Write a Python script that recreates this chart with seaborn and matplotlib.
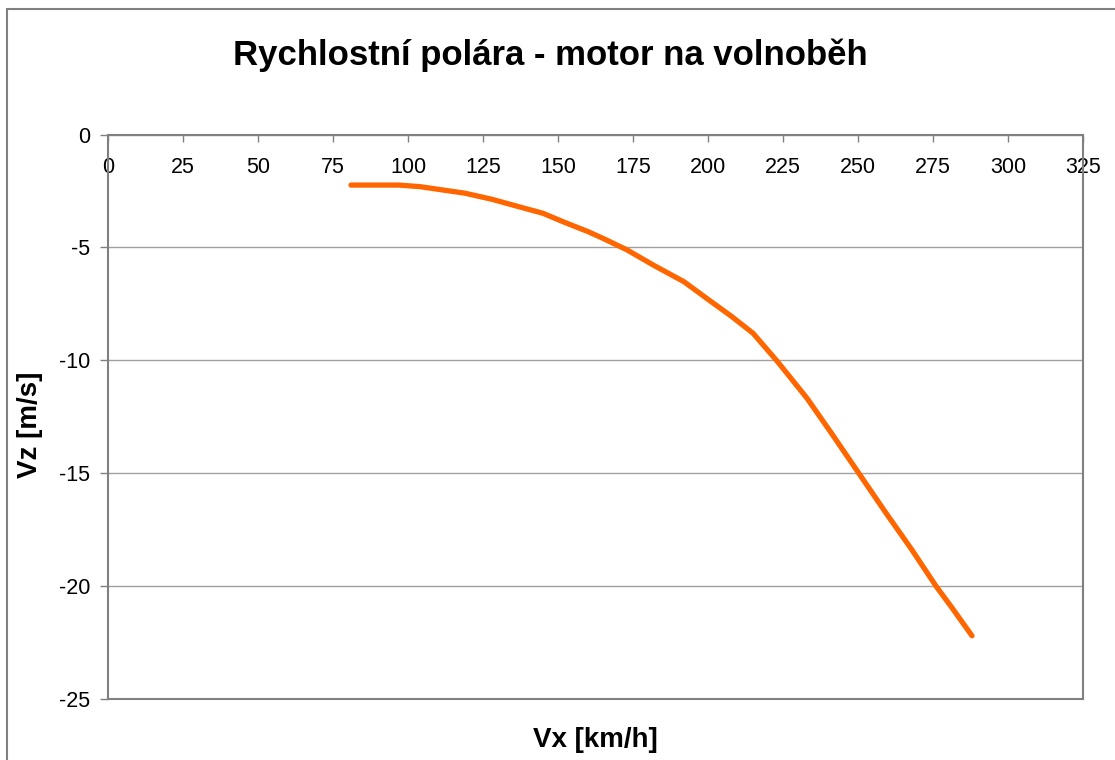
import numpy as np
import pandas as pd
import seaborn as sns
import matplotlib.pyplot as plt
from matplotlib.patches import Rectangle

# speed polar, engine idle
vx = [81, 97, 104, 119, 128, 137, 145, 152, 160, 165, 173, 182, 192,
      200, 208, 215, 223, 233, 241, 250, 259, 268, 276, 281, 288]
vz = [-2.24, -2.24, -2.31, -2.60, -2.87, -3.20, -3.49, -3.88, -4.30, -4.60,
      -5.11, -5.80, -6.52, -7.30, -8.07, -8.80, -10.03, -11.68, -13.20,
      -14.95, -16.70, -18.40, -20.00, -20.90, -22.20]
x_ticks = list(range(0, 326, 25))
y_ticks = [0, -5, -10, -15, -20, -25]

df = pd.DataFrame({"Vx": vx, "Vz": vz})

sns.set_style("white")
plt.rcParams['font.family'] = ['Liberation Sans', 'DejaVu Sans']
plt.rcParams['axes.unicode_minus'] = False
plt.rcParams['text.color'] = 'black'
plt.rcParams['axes.labelcolor'] = 'black'
plt.rcParams['xtick.labelcolor'] = 'black'
plt.rcParams['ytick.labelcolor'] = 'black'

fig = plt.figure(figsize=(11.15, 7.6), dpi=100)
ax = fig.add_axes([108/1115, 1 - 699/760, 975/1115, 564.5/760])

sns.lineplot(data=df, x="Vx", y="Vz", sort=False, color="#FF6600",
             linewidth=3.8, solid_capstyle="round", ax=ax)

ax.set_xlim(0, 325)
ax.set_ylim(-25, 0)
ax.set_xticks(x_ticks)
ax.set_yticks(y_ticks)
ax.set_yticklabels([str(t) for t in y_ticks])
ax.grid(axis='y', color='#a0a0a0', linewidth=1)
ax.grid(axis='x', visible=False)

# x axis sits on the zero line at top, labels hang inside the plot
ax.tick_params(axis='x', top=True, labeltop=True, bottom=False, labelbottom=False,
               direction='in', length=5, width=1, color='#808080', pad=-31,
               labelsize=15.5, labelcolor='black')
ax.tick_params(axis='y', left=True, direction='out', length=6, width=1,
               color='#808080', pad=7, labelsize=15.5, labelcolor='black')

for s in ax.spines.values():
    s.set_color('#808080')
    s.set_linewidth(1.5)

ax.set_xlabel("Vx [km/h]", fontsize=20, fontweight='bold', color='black')
ax.xaxis.set_label_position('bottom')
ax.xaxis.set_label_coords(0.5, -0.05)
ax.set_ylabel("Vz [m/s]", fontsize=20, fontweight='bold', color='black')
ax.yaxis.set_label_coords(-0.067, 0.486)

fig.text(550.5/1115, 1 - 55/760, "Rychlostní polára - motor na volnoběh",
         ha='center', va='center', fontsize=25, fontweight='bold', color='black')

# chart area border
fig.add_artist(Rectangle((7/1115, -0.1), 2, 1.1 - 9/760, transform=fig.transFigure,
                         fill=False, edgecolor='#808080', linewidth=1.5))

fig.savefig("out.png", dpi=100)
